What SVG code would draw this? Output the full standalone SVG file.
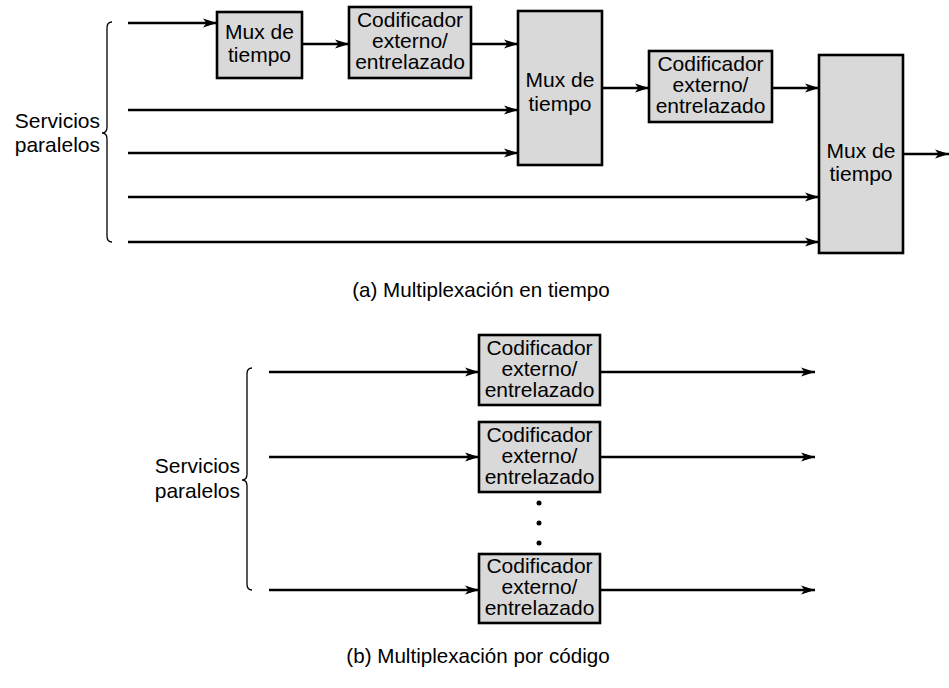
<svg xmlns="http://www.w3.org/2000/svg" width="949" height="688" viewBox="0 0 949 688">
  <style>
    .box { fill: #d9d9d9; stroke: #000; stroke-width: 2.6; }
    .lbl { font-family: "Liberation Sans", Arial, sans-serif; font-size: 21px; fill: #000; text-anchor: middle; }
    .side { font-family: "Liberation Sans", Arial, sans-serif; font-size: 21px; fill: #000; text-anchor: end; }
    .cap { font-family: "Liberation Sans", Arial, sans-serif; font-size: 20.6px; fill: #000; text-anchor: middle; }
    .wire { stroke: #000; stroke-width: 2.4; fill: none; marker-end: url(#arrow); }
    .brace { stroke: #000; stroke-width: 1.3; fill: none; }
  </style>
  <defs>
    <marker id="arrow" markerUnits="userSpaceOnUse" markerWidth="15" markerHeight="10" refX="14" refY="5" orient="auto">
      <path d="M0,0.5 L14,5 L0,9.5 L3.5,5 Z" fill="#000"/>
    </marker>
  </defs>

  <!-- (a) time multiplexing -->
  <g id="brace-a">
    <path class="brace" d="M112,22 Q107,22 107,28 L107,127 Q107,133 102,133 Q107,133 107,139 L107,236 Q107,242 112,242"/>
    <text class="side" x="100" y="128">Servicios</text>
    <text class="side" x="100" y="152">paralelos</text>
  </g>

  <g id="mux1">
    <rect class="box" x="217" y="12" width="85" height="66"/>
    <text class="lbl" x="259.5" y="39">Mux de</text>
    <text class="lbl" x="259.5" y="62">tiempo</text>
  </g>
  <g id="coder1">
    <rect class="box" x="349" y="7" width="122" height="71"/>
    <text class="lbl" x="410" y="27">Codificador</text>
    <text class="lbl" x="410" y="48">externo/</text>
    <text class="lbl" x="410" y="69">entrelazado</text>
  </g>
  <g id="mux2">
    <rect class="box" x="518" y="11" width="84" height="154"/>
    <text class="lbl" x="560" y="87">Mux de</text>
    <text class="lbl" x="560" y="111">tiempo</text>
  </g>
  <g id="coder2">
    <rect class="box" x="649" y="51" width="123" height="71"/>
    <text class="lbl" x="710.5" y="71">Codificador</text>
    <text class="lbl" x="710.5" y="92">externo/</text>
    <text class="lbl" x="710.5" y="113">entrelazado</text>
  </g>
  <g id="mux3">
    <rect class="box" x="819" y="55" width="84" height="198"/>
    <text class="lbl" x="861" y="158">Mux de</text>
    <text class="lbl" x="861" y="181">tiempo</text>
  </g>

  <g id="connectors-a">
    <line class="wire" x1="128" y1="23" x2="217" y2="23"/>
    <line class="wire" x1="302" y1="44" x2="349" y2="44"/>
    <line class="wire" x1="471" y1="44" x2="518" y2="44"/>
    <line class="wire" x1="128" y1="110" x2="518" y2="110"/>
    <line class="wire" x1="128" y1="153" x2="518" y2="153"/>
    <line class="wire" x1="602" y1="88" x2="649" y2="88"/>
    <line class="wire" x1="772" y1="88" x2="819" y2="88"/>
    <line class="wire" x1="128" y1="197" x2="819" y2="197"/>
    <line class="wire" x1="128" y1="242" x2="819" y2="242"/>
    <line class="wire" x1="903" y1="154" x2="949" y2="154"/>
  </g>

  <text class="cap" x="481" y="297">(a) Multiplexación en tiempo</text>

  <!-- (b) code multiplexing -->
  <g id="brace-b">
    <path class="brace" d="M252,368 Q247,368 247,374 L247,474 Q247,480 242,480 Q247,480 247,486 L247,584 Q247,590 252,590"/>
    <text class="side" x="240" y="473">Servicios</text>
    <text class="side" x="240" y="498">paralelos</text>
  </g>

  <g id="coder-b1">
    <rect class="box" x="479" y="335" width="121" height="70"/>
    <text class="lbl" x="539.5" y="355">Codificador</text>
    <text class="lbl" x="539.5" y="376">externo/</text>
    <text class="lbl" x="539.5" y="397">entrelazado</text>
  </g>
  <g id="coder-b2">
    <rect class="box" x="479" y="422" width="121" height="70"/>
    <text class="lbl" x="539.5" y="442">Codificador</text>
    <text class="lbl" x="539.5" y="463">externo/</text>
    <text class="lbl" x="539.5" y="484">entrelazado</text>
  </g>
  <g id="ellipsis">
    <circle cx="539" cy="503" r="2.5" fill="#000"/>
    <circle cx="539" cy="523" r="2.5" fill="#000"/>
    <circle cx="539" cy="543" r="2.5" fill="#000"/>
  </g>
  <g id="coder-b3">
    <rect class="box" x="479" y="554" width="121" height="69"/>
    <text class="lbl" x="539.5" y="573">Codificador</text>
    <text class="lbl" x="539.5" y="594">externo/</text>
    <text class="lbl" x="539.5" y="615">entrelazado</text>
  </g>

  <g id="connectors-b">
    <line class="wire" x1="269" y1="372" x2="479" y2="372"/>
    <line class="wire" x1="600" y1="372" x2="815" y2="372"/>
    <line class="wire" x1="269" y1="457" x2="479" y2="457"/>
    <line class="wire" x1="600" y1="457" x2="815" y2="457"/>
    <line class="wire" x1="269" y1="590" x2="479" y2="590"/>
    <line class="wire" x1="600" y1="590" x2="815" y2="590"/>
  </g>

  <text class="cap" x="478" y="663">(b) Multiplexación por código</text>
</svg>
